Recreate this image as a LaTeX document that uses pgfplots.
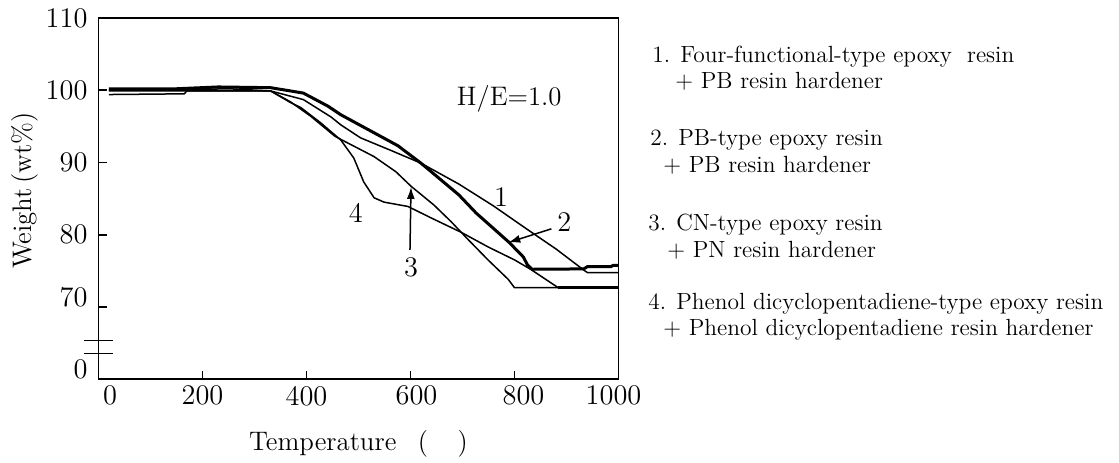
\documentclass[border=0pt]{standalone}
\usepackage{pgfplots}
\pgfplotsset{compat=1.18}
\usetikzlibrary{arrows.meta}
\newcommand{\sx}[2]{\hbox to 0pt{\hss\kern#1\kern#1\relax#2\hss}}
\begin{document}
\begin{tikzpicture}
\path[use as bounding box] (0,0) rectangle (559.5pt,-231pt);
\begin{axis}[
  at={(49.25pt,-9pt)}, anchor=north west,
  width=260pt, height=180.5pt, scale only axis,
  xmin=0, xmax=1000, ymin=60, ymax=110,
  xtick={0,200,...,1000},
  xticklabels={\sx{5.75pt}{0},200,400,\sx{3pt}{600},\sx{4.5pt}{800},\sx{-2.5pt}{1000}},
  ytick={80,90,100,110},
  yticklabels={80,90,100,110},
  extra y ticks={60,70},
  extra y tick labels={0,70},
  extra y tick style={yticklabel style={anchor=east, yshift=5pt}},
  xtick pos=left, ytick pos=left,
  tick align=inside,
  major tick length=4pt,
  axis line style={line width=0.9pt},
  every tick/.style={black, line width=0.9pt},
  tick label style={font=\fontsize{14.2}{17}\selectfont},
  yticklabel style={anchor=east, xshift=-2pt},
  clip=false,
  xlabel={Temperature\hspace{0.8em}(\hspace{1.1em})},
  ylabel={Weight\,(wt\%)},
  xlabel style={font=\fontsize{13.4}{16}\selectfont, at={(axis description cs:0.5,-0.197)}, anchor=base},
  ylabel style={font=\fontsize{13.4}{16}\selectfont, at={(axis description cs:-0.141,0.522)}, anchor=center},
]
% curve 1
\addplot[black, line width=0.75pt] coordinates {
(20,100.0) (120,100.0) (250,100.2) (331,99.9) (394,98.7) (447,96.3) (466,95.2)
(504,93.4) (561,91.7) (620,89.9) (693,87.0) (759,84.0) (823,80.8) (880,78.0)
(933,75.1) (940,74.75) (1000,74.75)};
% curve 2 (bold)
\addplot[black, line width=1.5pt] coordinates {
(20,100.2) (150,100.2) (230,100.45) (331,100.35) (394,99.6) (441,97.8) (466,96.6)
(530,94.1) (576,92.3) (620,89.9) (640,88.7) (693,85.5) (726,83.0) (790,78.9)
(817,76.9) (825,75.8) (834,75.2) (933,75.25) (940,75.55) (985,75.55) (990,75.75) (1000,75.75)};
% curve 3
\addplot[black, line width=0.75pt] coordinates {
(20,99.4) (165,99.5) (170,99.9) (331,99.9) (369,98.4) (408,96.4) (455,93.6)
(530,90.8) (572,88.7) (601,86.7) (645,84.1) (678,81.8) (711,79.3) (749,76.5)
(788,73.8) (800,72.65) (1000,72.65)};
% curve 4
\addplot[black, line width=0.75pt] coordinates {
(20,99.9) (331,99.9) (369,98.3) (389,97.6) (427,95.5) (466,93.1) (491,90.6)
(510,87.3) (530,85.1) (549,84.5) (595,83.9) (640,82.3) (698,80.3) (749,78.3)
(800,76.5) (832,75.15) (884,72.65) (1000,72.65)};
\addplot[black, line width=1.2pt, forget plot] coordinates {(884,72.65) (1000,72.65)};
% axis break
\draw[line width=0.9pt] (axis cs:-28,65.33) -- (axis cs:28,65.33);
\draw[line width=0.9pt] (axis cs:-28,63.53) -- (axis cs:28,63.53);
% annotations
\node[font=\fontsize{13.4}{16}\selectfont] at (axis cs:790,98.87) {H/E=1.0};
\node[font=\fontsize{14.2}{17}\selectfont] at (axis cs:774,85.2) {1};
\node[font=\fontsize{14.2}{17}\selectfont] at (axis cs:896,81.8) {2};
\node[font=\fontsize{14.2}{17}\selectfont] at (axis cs:601,75.4) {3};
\node[font=\fontsize{14.2}{17}\selectfont] at (axis cs:495,83.0) {4};
\draw[-{Latex[length=6pt,width=4pt]}, line width=0.75pt] (axis cs:599,77.9) -- (axis cs:601,86.6);
\draw[-{Latex[length=6pt,width=4pt]}, line width=0.75pt] (axis cs:871,80.8) -- (axis cs:788,78.9);
\end{axis}
\begin{scope}[every node/.style={anchor=base west, inner sep=0pt, font=\fontsize{11.7}{14}\selectfont}]
\node at (326pt,-31pt) {1. Four-functional-type epoxy\ \ resin};
\node at (337.5pt,-44pt) {+ PB resin hardener};
\node at (325pt,-72.5pt) {2. PB-type epoxy resin};
\node at (331.5pt,-86pt) {+ PB resin hardener};
\node at (324pt,-115pt) {3. CN-type epoxy resin};
\node at (333.5pt,-128.5pt) {+ PN resin hardener};
\node at (324pt,-154.5pt) {4. Phenol dicyclopentadiene-type epoxy resin};
\node at (331.5pt,-167.5pt) {+ Phenol dicyclopentadiene resin hardener};
\end{scope}
\end{tikzpicture}
\end{document}
